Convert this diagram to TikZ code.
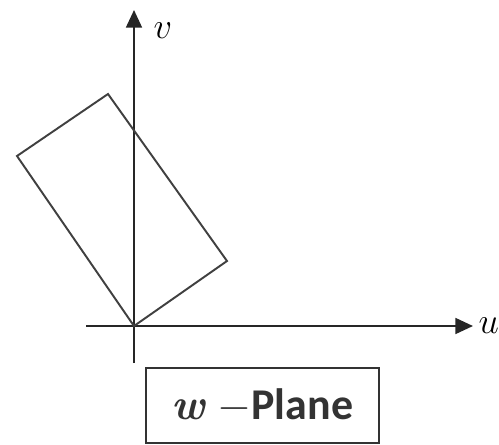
\documentclass[tikz,border=0pt]{standalone}
\usepackage{amsmath}
\usepackage{fontspec}
\newfontfamily\labelfont{Carlito}
\usepackage{tikz}
\usetikzlibrary{arrows.meta,positioning}

\begin{document}
\begin{tikzpicture}[x=0.02cm,y=0.02cm,
  axis/.style={line width=1.2pt,black!85,-{Triangle[length=10pt,width=9pt]}},
  region/.style={line width=1.1pt,black!75,line join=miter},
  axlabel/.style={font=\fontsize{20}{22}\selectfont,inner sep=1pt},
  planebox/.style={draw,line width=0.9pt,black!80,minimum width=4.66cm,minimum height=1.5cm,inner sep=0pt}]
  \useasboundingbox (-134,-118) rectangle (365,326);
  % axes
  \coordinate (O) at (0,0);
  \coordinate (ustart) at (-48,0);
  \coordinate (uend) at (339,0);
  \coordinate (vstart) at (0,-37);
  \coordinate (vend) at (0,316);
  \draw[axis] (ustart) -- (uend);
  \draw[axis] (vstart) -- (vend);
  \node[axlabel,anchor=west] (ulab) at ([xshift=2]uend) {$u$};
  \node[axlabel,anchor=north west] (vlab) at ([xshift=10,yshift=-6]vend) {$v$};
  % image of the rectangle
  \coordinate (A) at (93,65);
  \coordinate (B) at (-26,232);
  \coordinate (C) at (-117,170);
  \draw[region] (O) -- (A) -- (B) -- (C) -- cycle;
  % caption box
  \node[planebox] (plane) at (128.5,-79.5)
    {\fontsize{25}{27}\selectfont\textbf{\textit{w}}\hspace{0.25em}\labelfont\bfseries$-$Plane};
\end{tikzpicture}
\end{document}
